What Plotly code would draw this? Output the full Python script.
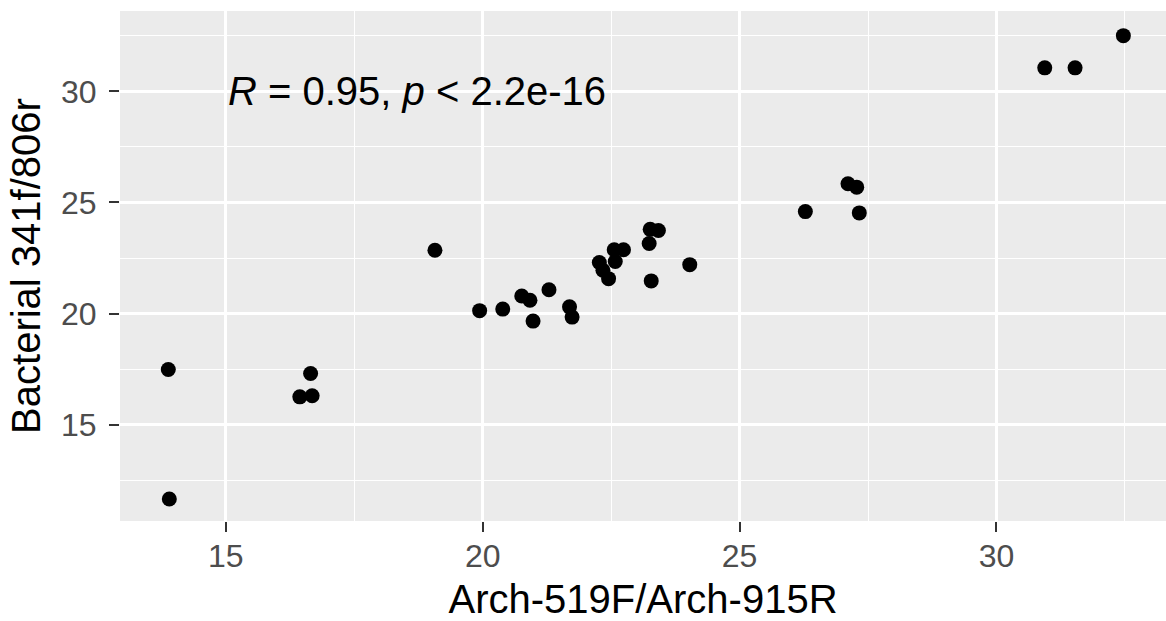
import plotly.graph_objects as go

arch = [13.88, 13.90, 16.65, 16.44, 16.68, 19.07, 19.94, 20.39, 20.76, 20.92, 20.98,
        21.29, 21.69, 21.74, 22.27, 22.34, 22.45, 22.56, 22.58, 22.74, 23.24, 23.26,
        23.42, 23.28, 24.03, 26.28, 27.11, 27.28, 27.33, 30.94, 31.53, 32.47]
bact = [17.48, 11.65, 17.30, 16.25, 16.30, 22.85, 20.13, 20.20, 20.79, 20.60, 19.66,
        21.07, 20.30, 19.84, 22.30, 21.95, 21.57, 22.87, 22.34, 22.87, 23.15, 23.79,
        23.74, 21.47, 22.20, 24.59, 25.84, 25.69, 24.53, 31.06, 31.06, 32.51]
x_ticks = [15, 20, 25, 30]
y_ticks = [15, 20, 25, 30]
label = "<i>R</i> = 0.95, <i>p</i> &lt; 2.2e-16"

FONT = "Arial, Liberation Sans, sans-serif"

fig = go.Figure()
fig.add_trace(go.Scatter(
    x=arch, y=bact, mode="markers",
    marker=dict(color="black", size=15, line=dict(width=0)),
    showlegend=False, hoverinfo="skip",
))

fig.add_annotation(
    x=15, y=30, xref="x", yref="y", text=label, showarrow=False,
    xanchor="left", yanchor="middle",
    font=dict(family=FONT, size=40, color="black"),
)

axis_common = dict(
    showgrid=True, gridcolor="white", gridwidth=2.5,
    zeroline=False, showline=False,
    ticks="outside", ticklen=10, tickwidth=2, tickcolor="#333333",
    tickfont=dict(family=FONT, size=32, color="#4D4D4D"),
    minor=dict(dtick=2.5, showgrid=True, gridcolor="white", gridwidth=1.2, ticks=""),
)

fig.update_layout(
    width=1166, height=621,
    margin=dict(l=120, r=0, t=11, b=100),
    paper_bgcolor="white", plot_bgcolor="#EBEBEB",
    xaxis=dict(
        range=[12.94, 33.30], tickvals=x_ticks, ticktext=[str(v) for v in x_ticks],
        title=dict(text="Arch-519F/Arch-915R", font=dict(family=FONT, size=40, color="black"), standoff=14),
        ticklabelstandoff=-3,
        **axis_common,
    ),
    yaxis=dict(
        range=[10.66, 33.62], tickvals=y_ticks, ticktext=[str(v) for v in y_ticks],
        title=dict(text="Bacterial 341f/806r", font=dict(family=FONT, size=40, color="black"), standoff=8),
        ticklabelstandoff=6,
        **axis_common,
    ),
)

fig.write_html("out.html")
